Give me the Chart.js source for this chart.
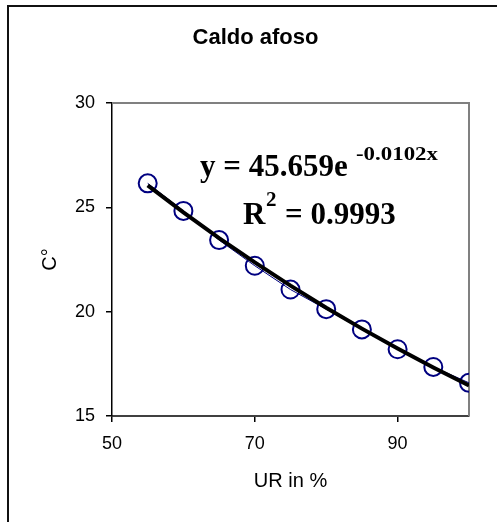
<!DOCTYPE html>
<html>
<head>
<meta charset="utf-8">
<script src="https://cdn.jsdelivr.net/npm/chart.js@4/dist/chart.umd.min.js"></script>
<style>
  html, body { margin: 0; padding: 0; background: #fff; overflow: hidden; }
  #c { display: block; }
</style>
</head>
<body>
<canvas id="c" width="497" height="522"></canvas>
<script>
// Relative humidity (%) and temperature (°C)
const urValues = [55, 60, 65, 70, 75, 80, 85, 90, 95, 100];
const tempValues = [26.15, 24.83, 23.43, 22.2, 21.06, 20.12, 19.15, 18.2, 17.35, 16.59];

// Exponential trendline coefficients (y = a·e^(b·x)) and fit quality
const trendA = 45.659;
const trendB = -0.0102;
const rSquared = '0.9993';

const xTickValues = [50, 70, 90];
const yTickValues = [15, 20, 25, 30];

const chartTitle = 'Caldo afoso';
const xTitle = 'UR in %';
const yTitle = 'C°';

const points = urValues.map((x, i) => ({ x: x, y: tempValues[i] }));
const trendPoints = urValues.map(x => ({ x: x, y: trendA * Math.exp(trendB * x) }));

const sans = "'Liberation Sans', Arial, sans-serif";
const serif = "'Liberation Serif', 'Times New Roman', serif";

const decorations = {
  id: 'decorations',
  beforeDraw(chart) {
    // outer chart frame (left and top edges inside the canvas)
    const { ctx, width, height } = chart;
    ctx.save();
    ctx.fillStyle = '#fff';
    ctx.fillRect(0, 0, width, height);
    ctx.lineWidth = 2;
    ctx.strokeStyle = '#111';
    ctx.beginPath();
    ctx.moveTo(8, height + 2);
    ctx.lineTo(8, 6);
    ctx.lineTo(width + 2, 6);
    ctx.stroke();
    ctx.restore();
  },
  beforeDatasetsDraw(chart) {
    const { ctx, chartArea: a } = chart;
    ctx.save();
    ctx.strokeStyle = '#808080';
    ctx.lineWidth = 2;
    ctx.beginPath();
    ctx.moveTo(a.left, a.top);
    ctx.lineTo(a.right, a.top);
    ctx.lineTo(a.right, a.bottom);
    ctx.stroke();
    ctx.restore();
  },
  afterDraw(chart) {
    const { ctx } = chart;
    ctx.save();
    ctx.fillStyle = '#000';
    ctx.textBaseline = 'alphabetic';

    // chart title
    ctx.font = 'bold 22px ' + sans;
    ctx.textAlign = 'center';
    ctx.fillText(chartTitle, 255.5, 44);

    // trendline equation
    ctx.textAlign = 'left';
    ctx.font = 'bold 31px ' + serif;
    ctx.fillText('y = ' + trendA.toFixed(3) + 'e', 200, 176);
    ctx.font = 'bold 18px ' + serif;
    const sup = trendB.toFixed(4) + 'x';
    const supW = ctx.measureText(sup).width;
    ctx.save();
    ctx.translate(356, 160);
    ctx.scale(82 / supW, 1);
    ctx.fillText(sup, 0, 0);
    ctx.restore();

    // coefficient of determination
    ctx.font = 'bold 31px ' + serif;
    ctx.fillText('R', 243, 224);
    ctx.font = 'bold 21px ' + serif;
    ctx.fillText('2', 266, 206);
    ctx.font = 'bold 31px ' + serif;
    ctx.fillText('= ' + rSquared, 285, 224);
    ctx.restore();
  }
};

new Chart(document.getElementById('c'), {
  type: 'scatter',
  data: {
    datasets: [
      {
        label: 'trend',
        data: trendPoints,
        showLine: true,
        borderColor: '#000',
        borderWidth: 4,
        pointRadius: 0,
        fill: false
      },
      {
        label: 'data',
        data: points,
        showLine: true,
        borderColor: '#000080',
        borderWidth: 1,
        pointRadius: 9,
        pointBorderWidth: 2,
        pointBorderColor: '#000080',
        pointBackgroundColor: 'rgba(0,0,0,0)',
        fill: false
      }
    ]
  },
  options: {
    responsive: false,
    animation: false,
    devicePixelRatio: 1,
    layout: { padding: { top: 103, left: 0, right: 28, bottom: 0 } },
    plugins: {
      legend: { display: false },
      tooltip: { enabled: false },
      title: { display: false }
    },
    scales: {
      x: {
        type: 'linear',
        position: 'bottom',
        min: 50,
        max: 100,
        afterBuildTicks: s => { s.ticks = xTickValues.map(v => ({ value: v })); },
        afterFit: s => { s.height = 106; },
        grid: { drawOnChartArea: false, drawTicks: true, tickLength: 6, color: '#000', lineWidth: 1.5 },
        border: { display: true, color: '#404040', width: 2 },
        ticks: { color: '#000', font: { family: sans, size: 18 }, padding: 11, maxRotation: 0 },
        title: { display: true, text: xTitle, color: '#000', font: { family: sans, size: 20 }, padding: { top: 0, bottom: 29 } }
      },
      y: {
        type: 'linear',
        min: 15,
        max: 30,
        afterBuildTicks: s => { s.ticks = yTickValues.map(v => ({ value: v })); },
        afterFit: s => { s.width = 112; },
        grid: { drawOnChartArea: false, drawTicks: true, tickLength: 6, color: '#000', lineWidth: 1.5 },
        border: { display: true, color: '#000', width: 1.5 },
        ticks: { color: '#000', font: { family: sans, size: 18 }, padding: 11 },
        title: { display: true, text: yTitle, color: '#000', font: { family: sans, size: 20 }, padding: { top: 38, bottom: 0 } }
      }
    }
  },
  plugins: [decorations]
});
</script>
</body>
</html>
